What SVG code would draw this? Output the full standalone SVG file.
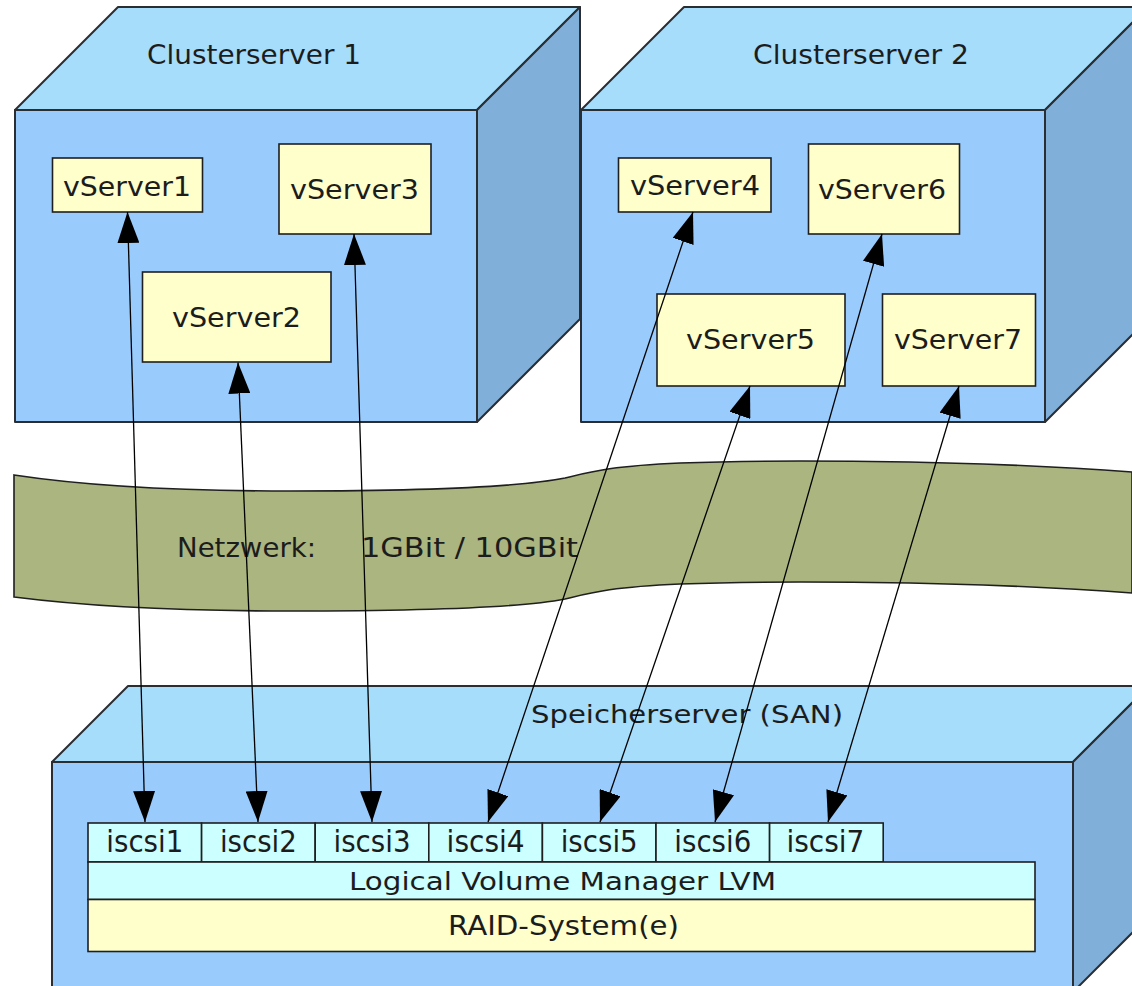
<svg xmlns="http://www.w3.org/2000/svg" width="1132" height="986" viewBox="0 0 1132 986">
  <style>
    .top { fill: #a6ddfb; stroke: #2a2e33; stroke-width: 2; stroke-linejoin: round; }
    .front { fill: #99cbfd; stroke: #2a2e33; stroke-width: 2; stroke-linejoin: round; }
    .side { fill: #80afd9; stroke: #2a2e33; stroke-width: 2; stroke-linejoin: round; }
    .vs { fill: #ffffcc; stroke: #1f1f1f; stroke-width: 1.6; }
    .vol { fill: #ccffff; stroke: #1f1f1f; stroke-width: 1.6; }
    .raid { fill: #ffffcc; stroke: #1f1f1f; stroke-width: 1.6; }
    .net { fill: #abb580; stroke: #1f1f1f; stroke-width: 1.6; }
    text { font-family: "DejaVu Sans", "Liberation Sans", sans-serif; fill: #1c1c1c; }
    .lbl { font-size: 26px; }
    .big { font-size: 27px; }
    .io { font-size: 30px; text-anchor: middle; }
    .link { stroke: #000; stroke-width: 1.3; fill: none; marker-start: url(#head); marker-end: url(#head); }
  </style>
  <defs>
    <marker id="head" viewBox="0 0 31 22" refX="31" refY="11" markerWidth="31" markerHeight="22" markerUnits="userSpaceOnUse" orient="auto-start-reverse">
      <path d="M0,0 L31,11 L0,22 Z" fill="#000"/>
    </marker>
  </defs>

  <rect width="1132" height="986" fill="#ffffff"/>

  <!-- Cluster server 1 -->
  <g id="clusterserver1">
    <polygon class="top" points="15,110 118,7 580,7 477,110"/>
    <polygon class="side" points="477,110 580,7 580,319 477,422"/>
    <rect class="front" x="15" y="110" width="462" height="312"/>
    <text class="big" x="147" y="64" textLength="214" lengthAdjust="spacingAndGlyphs">Clusterserver 1</text>
  </g>

  <!-- Cluster server 2 -->
  <g id="clusterserver2">
    <polygon class="top" points="581,110 684,7 1148,7 1045,110"/>
    <polygon class="side" points="1045,110 1148,7 1148,319 1045,422"/>
    <rect class="front" x="581" y="110" width="464" height="312"/>
    <text class="big" x="753" y="64" textLength="216" lengthAdjust="spacingAndGlyphs">Clusterserver 2</text>
  </g>

  <!-- virtual servers -->
  <g id="vserver1">
    <rect class="vs" x="52.5" y="158" width="150" height="54"/>
    <text class="lbl" x="63" y="196" textLength="128" lengthAdjust="spacingAndGlyphs">vServer1</text>
  </g>
  <g id="vserver2">
    <rect class="vs" x="142.5" y="272" width="188.5" height="90"/>
    <text class="lbl" x="172" y="327" textLength="129" lengthAdjust="spacingAndGlyphs">vServer2</text>
  </g>
  <g id="vserver3">
    <rect class="vs" x="279" y="144" width="152" height="90"/>
    <text class="lbl" x="290" y="199" textLength="129" lengthAdjust="spacingAndGlyphs">vServer3</text>
  </g>
  <g id="vserver4">
    <rect class="vs" x="618.5" y="158" width="152.5" height="54"/>
    <text class="lbl" x="630" y="195" textLength="130" lengthAdjust="spacingAndGlyphs">vServer4</text>
  </g>
  <g id="vserver5">
    <rect class="vs" x="657" y="294" width="188" height="92"/>
    <text class="lbl" x="686" y="349" textLength="129" lengthAdjust="spacingAndGlyphs">vServer5</text>
  </g>
  <g id="vserver6">
    <rect class="vs" x="808.5" y="144" width="151" height="90"/>
    <text class="lbl" x="818" y="199" textLength="128" lengthAdjust="spacingAndGlyphs">vServer6</text>
  </g>
  <g id="vserver7">
    <rect class="vs" x="882.5" y="294" width="153" height="92"/>
    <text class="lbl" x="894" y="349" textLength="128" lengthAdjust="spacingAndGlyphs">vServer7</text>
  </g>

  <!-- Network band -->
  <g id="netzwerk">
    <path class="net" d="M14,475 C100,488 200,491 290,491 C420,491 520,487 565,478 C590,472 610,466 680,463 C760,460 960,459 1132,472 L1132,593 C960,580 760,581 680,584 C610,587 590,593 565,599 C520,608 420,611 290,611 C200,611 100,608 14,597 Z"/>
    <text class="big" x="177" y="557" textLength="139" lengthAdjust="spacingAndGlyphs">Netzwerk:</text>
    <text class="big" x="361" y="557" textLength="217" lengthAdjust="spacingAndGlyphs">1GBit  / 10GBit</text>
  </g>

  <!-- Storage server (SAN) -->
  <g id="speicherserver">
    <polygon class="top" points="52,762 128,686 1149,686 1073,762"/>
    <polygon class="side" points="1073,762 1149,686 1149,916 1073,992"/>
    <rect class="front" x="52" y="762" width="1021" height="232"/>
    <text class="lbl" x="531" y="723" textLength="312" lengthAdjust="spacingAndGlyphs" style="font-size:25px">Speicherserver (SAN)</text>
  </g>

  <g id="iscsi1"><rect class="vol" x="88" y="823" width="113.6" height="39"/><text class="io" x="144.8" y="852" textLength="77" lengthAdjust="spacingAndGlyphs">iscsi1</text></g>
  <g id="iscsi2"><rect class="vol" x="201.6" y="823" width="113.6" height="39"/><text class="io" x="258.4" y="852" textLength="77" lengthAdjust="spacingAndGlyphs">iscsi2</text></g>
  <g id="iscsi3"><rect class="vol" x="315.2" y="823" width="113.6" height="39"/><text class="io" x="372" y="852" textLength="77" lengthAdjust="spacingAndGlyphs">iscsi3</text></g>
  <g id="iscsi4"><rect class="vol" x="428.8" y="823" width="113.6" height="39"/><text class="io" x="485.6" y="852" textLength="78" lengthAdjust="spacingAndGlyphs">iscsi4</text></g>
  <g id="iscsi5"><rect class="vol" x="542.4" y="823" width="113.6" height="39"/><text class="io" x="599.2" y="852" textLength="77" lengthAdjust="spacingAndGlyphs">iscsi5</text></g>
  <g id="iscsi6"><rect class="vol" x="656" y="823" width="113.6" height="39"/><text class="io" x="712.8" y="852" textLength="77" lengthAdjust="spacingAndGlyphs">iscsi6</text></g>
  <g id="iscsi7"><rect class="vol" x="769.6" y="823" width="113.6" height="39"/><text class="io" x="825.4" y="852" textLength="78" lengthAdjust="spacingAndGlyphs">iscsi7</text></g>

  <g id="lvm">
    <rect class="vol" x="88" y="862" width="947" height="37.5"/>
    <text class="lbl" x="349" y="890" textLength="427" lengthAdjust="spacingAndGlyphs" style="font-size:25px">Logical Volume Manager LVM</text>
  </g>
  <g id="raid">
    <rect class="raid" x="88" y="899.5" width="947" height="52"/>
    <text class="big" x="448" y="935" textLength="231" lengthAdjust="spacingAndGlyphs">RAID-System(e)</text>
  </g>

  <!-- iSCSI links between virtual servers and volumes -->
  <g id="connectors">
    <line class="link" x1="127.5" y1="212" x2="145" y2="822"/>
    <line class="link" x1="238" y1="362.5" x2="258" y2="822"/>
    <line class="link" x1="354" y1="234" x2="372" y2="822"/>
    <line class="link" x1="693" y1="212" x2="488" y2="822"/>
    <line class="link" x1="750" y1="386" x2="600" y2="822"/>
    <line class="link" x1="882" y1="234" x2="715" y2="822"/>
    <line class="link" x1="959" y1="386" x2="828" y2="822"/>
  </g>
</svg>
